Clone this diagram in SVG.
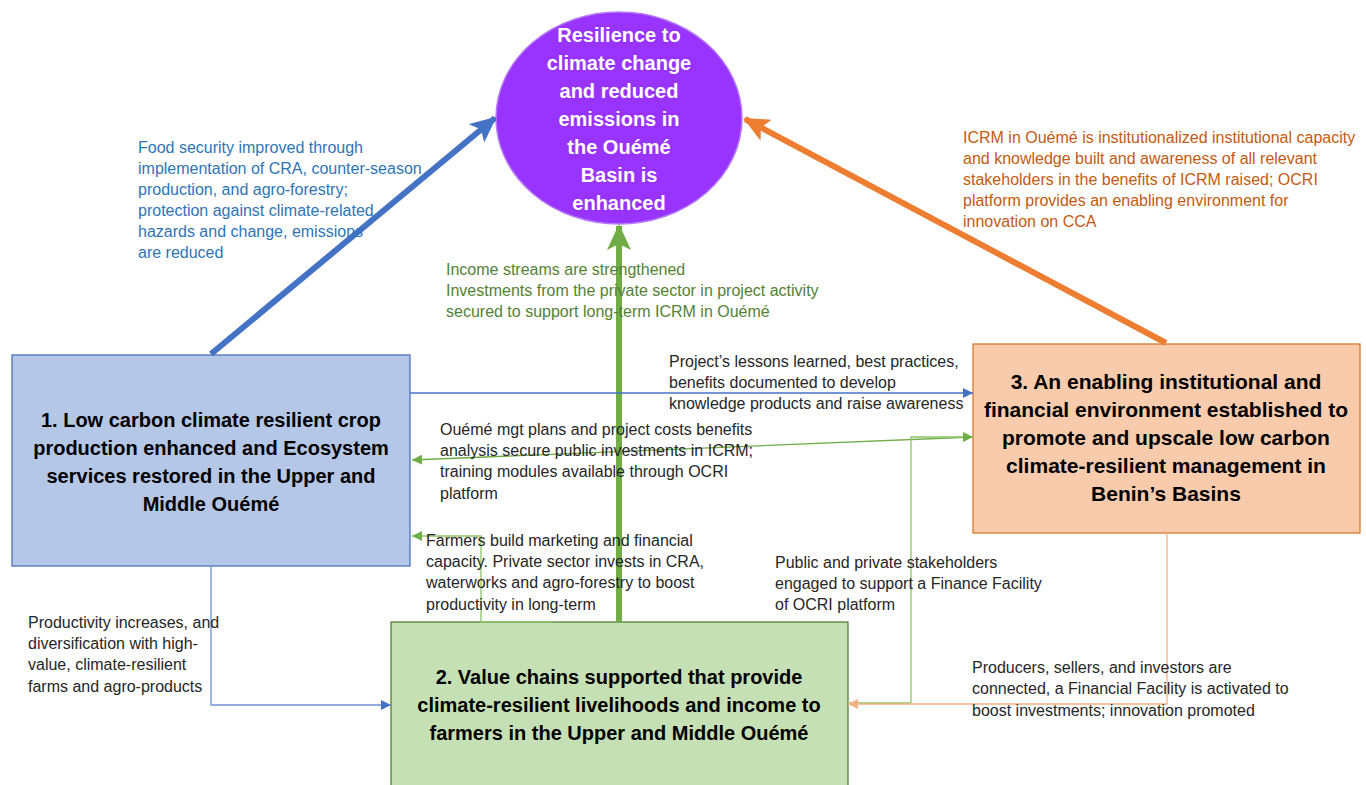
<svg xmlns="http://www.w3.org/2000/svg" width="1366" height="785" viewBox="0 0 1366 785">
<defs>
<style>
.lbl{font-family:"Liberation Sans",Arial,sans-serif;font-size:16px}
.blk{fill:#262626}
.bx{font-family:"Liberation Sans",Arial,sans-serif;font-size:20px;font-weight:bold;fill:#000;text-anchor:middle}
.bx3{font-size:21px}
.ell{font-family:"Liberation Sans",Arial,sans-serif;font-size:20px;font-weight:bold;fill:#fff;text-anchor:middle}
.thin{fill:none;stroke-width:1.3}
.thick{fill:none;stroke-width:6}
</style>
<marker id="abBlue" markerUnits="userSpaceOnUse" markerWidth="26" markerHeight="24" viewBox="0 0 26 24" refX="24" refY="12" orient="auto"><path d="M0,0 L26,12 L0,24 L6,12 Z" fill="#4472C4"/></marker>
<marker id="abOrange" markerUnits="userSpaceOnUse" markerWidth="26" markerHeight="24" viewBox="0 0 26 24" refX="24" refY="12" orient="auto"><path d="M0,0 L26,12 L0,24 L6,12 Z" fill="#ED7D31"/></marker>
<marker id="abGreen" markerUnits="userSpaceOnUse" markerWidth="26" markerHeight="24" viewBox="0 0 26 24" refX="24" refY="12" orient="auto"><path d="M0,0 L26,12 L0,24 L6,12 Z" fill="#70AD47"/></marker>
<marker id="sBlue" markerUnits="userSpaceOnUse" markerWidth="10" markerHeight="10" viewBox="0 0 10 10" refX="10" refY="5" orient="auto"><path d="M0,0 L10,5 L0,10 Z" fill="#4472C4"/></marker>
<marker id="sGreen" markerUnits="userSpaceOnUse" markerWidth="10" markerHeight="10" viewBox="0 0 10 10" refX="10" refY="5" orient="auto"><path d="M0,0 L10,5 L0,10 Z" fill="#70AD47"/></marker>
<marker id="sOrange" markerUnits="userSpaceOnUse" markerWidth="10" markerHeight="10" viewBox="0 0 10 10" refX="10" refY="5" orient="auto"><path d="M0,0 L10,5 L0,10 Z" fill="#F4B183"/></marker>
</defs>
<rect width="1366" height="785" fill="#fff"/>

<g id="goal">
<ellipse cx="619" cy="118" rx="123" ry="106" fill="#9933FF" stroke="#B57CF5" stroke-width="1.5"/>
<text class="ell" x="619" y="42">Resilience to</text>
<text class="ell" x="619" y="70">climate change</text>
<text class="ell" x="619" y="98">and reduced</text>
<text class="ell" x="619" y="126">emissions in</text>
<text class="ell" x="619" y="154">the Ouémé</text>
<text class="ell" x="619" y="182">Basin is</text>
<text class="ell" x="619" y="210">enhanced</text>
</g>

<g id="node1">
<rect x="12" y="355" width="398" height="211" fill="#B4C7E7" stroke="#4A73B8" stroke-width="1.3"/>
<text class="bx" x="211" y="427">1. Low carbon climate resilient crop</text>
<text class="bx" x="211" y="455">production enhanced and Ecosystem</text>
<text class="bx" x="211" y="483">services restored in the Upper and</text>
<text class="bx" x="211" y="511">Middle Ouémé</text>
</g>

<g id="node2">
<rect x="391" y="622" width="457" height="170" fill="#C5E0B4" stroke="#548235" stroke-width="1.3"/>
<text class="bx" x="619" y="684">2. Value chains supported that provide</text>
<text class="bx" x="619" y="712">climate-resilient livelihoods and income to</text>
<text class="bx" x="619" y="740">farmers in the Upper and Middle Ouémé</text>
</g>

<g id="node3">
<rect x="973" y="344" width="387" height="189" fill="#F8CBAD" stroke="#D9782F" stroke-width="1.3"/>
<text class="bx bx3" x="1166" y="389">3. An enabling institutional and</text>
<text class="bx bx3" x="1166" y="417">financial environment established to</text>
<text class="bx bx3" x="1166" y="445">promote and upscale low carbon</text>
<text class="bx bx3" x="1166" y="473">climate-resilient management in</text>
<text class="bx bx3" x="1166" y="501">Benin’s Basins</text>
</g>

<g id="connectors">
<line class="thick" x1="211" y1="354" x2="495" y2="118" stroke="#4472C4" marker-end="url(#abBlue)"/>
<line class="thick" x1="1166" y1="343" x2="745" y2="119" stroke="#ED7D31" marker-end="url(#abOrange)"/>
<line class="thick" x1="619" y1="622" x2="619" y2="226" stroke="#70AD47" marker-end="url(#abGreen)"/>
<line class="thin" x1="410" y1="393" x2="973" y2="393" stroke="#4472C4" marker-end="url(#sBlue)"/>
<line class="thin" x1="973" y1="437" x2="412" y2="460" stroke="#70AD47" marker-end="url(#sGreen)"/>
<path class="thin" d="M848,703 H911 V437 H973" stroke="#8CC56A" marker-end="url(#sGreen)"/>
<path class="thin" d="M553,622 H481 V536 H412" stroke="#8CC56A" marker-end="url(#sGreen)"/>
<path class="thin" d="M211,566 V705 H391" stroke="#6F93D4" marker-end="url(#sBlue)"/>
<path class="thin" d="M1167,533 V704 H848" stroke="#F4B183" marker-end="url(#sOrange)"/>
</g>

<g id="labels">
<g class="lbl" fill="#2E75B6">
<text x="138" y="153">Food security improved through</text>
<text x="138" y="174">implementation of CRA, counter-season</text>
<text x="138" y="195">production, and agro-forestry;</text>
<text x="138" y="216">protection against climate-related</text>
<text x="138" y="237">hazards and change, emissions</text>
<text x="138" y="258">are reduced</text>
</g>
<g class="lbl" fill="#548235">
<text x="446" y="275">Income streams are strengthened</text>
<text x="446" y="296">Investments from the private sector in project activity</text>
<text x="446" y="317">secured to support long-term ICRM in Ouémé</text>
</g>
<g class="lbl" fill="#C55A11">
<text x="963" y="143">ICRM in Ouémé is institutionalized institutional capacity</text>
<text x="963" y="164">and knowledge built and awareness of all relevant</text>
<text x="963" y="185">stakeholders in the benefits of ICRM raised; OCRI</text>
<text x="963" y="206">platform provides an enabling environment for</text>
<text x="963" y="227">innovation on CCA</text>
</g>
<g class="lbl blk">
<text x="669" y="367">Project’s lessons learned, best practices,</text>
<text x="669" y="388">benefits documented to develop</text>
<text x="669" y="409">knowledge products and raise awareness</text>
<text x="440" y="435">Ouémé mgt plans and project costs benefits</text>
<text x="440" y="456">analysis secure public investments in ICRM;</text>
<text x="440" y="477">training modules available through OCRI</text>
<text x="440" y="499">platform</text>
<text x="426" y="546">Farmers build marketing and financial</text>
<text x="426" y="567">capacity. Private sector invests in CRA,</text>
<text x="426" y="588">waterworks and agro-forestry to boost</text>
<text x="426" y="610">productivity in long-term</text>
<text x="775" y="568">Public and private stakeholders</text>
<text x="775" y="589">engaged to support a Finance Facility</text>
<text x="775" y="610">of OCRI platform</text>
<text x="28" y="628">Productivity increases, and</text>
<text x="28" y="649">diversification with high-</text>
<text x="28" y="670">value, climate-resilient</text>
<text x="28" y="692">farms and agro-products</text>
<text x="972" y="673">Producers, sellers, and investors are</text>
<text x="972" y="694">connected, a Financial Facility is activated  to</text>
<text x="972" y="716">boost investments; innovation promoted</text>
</g>
</g>
</svg>
